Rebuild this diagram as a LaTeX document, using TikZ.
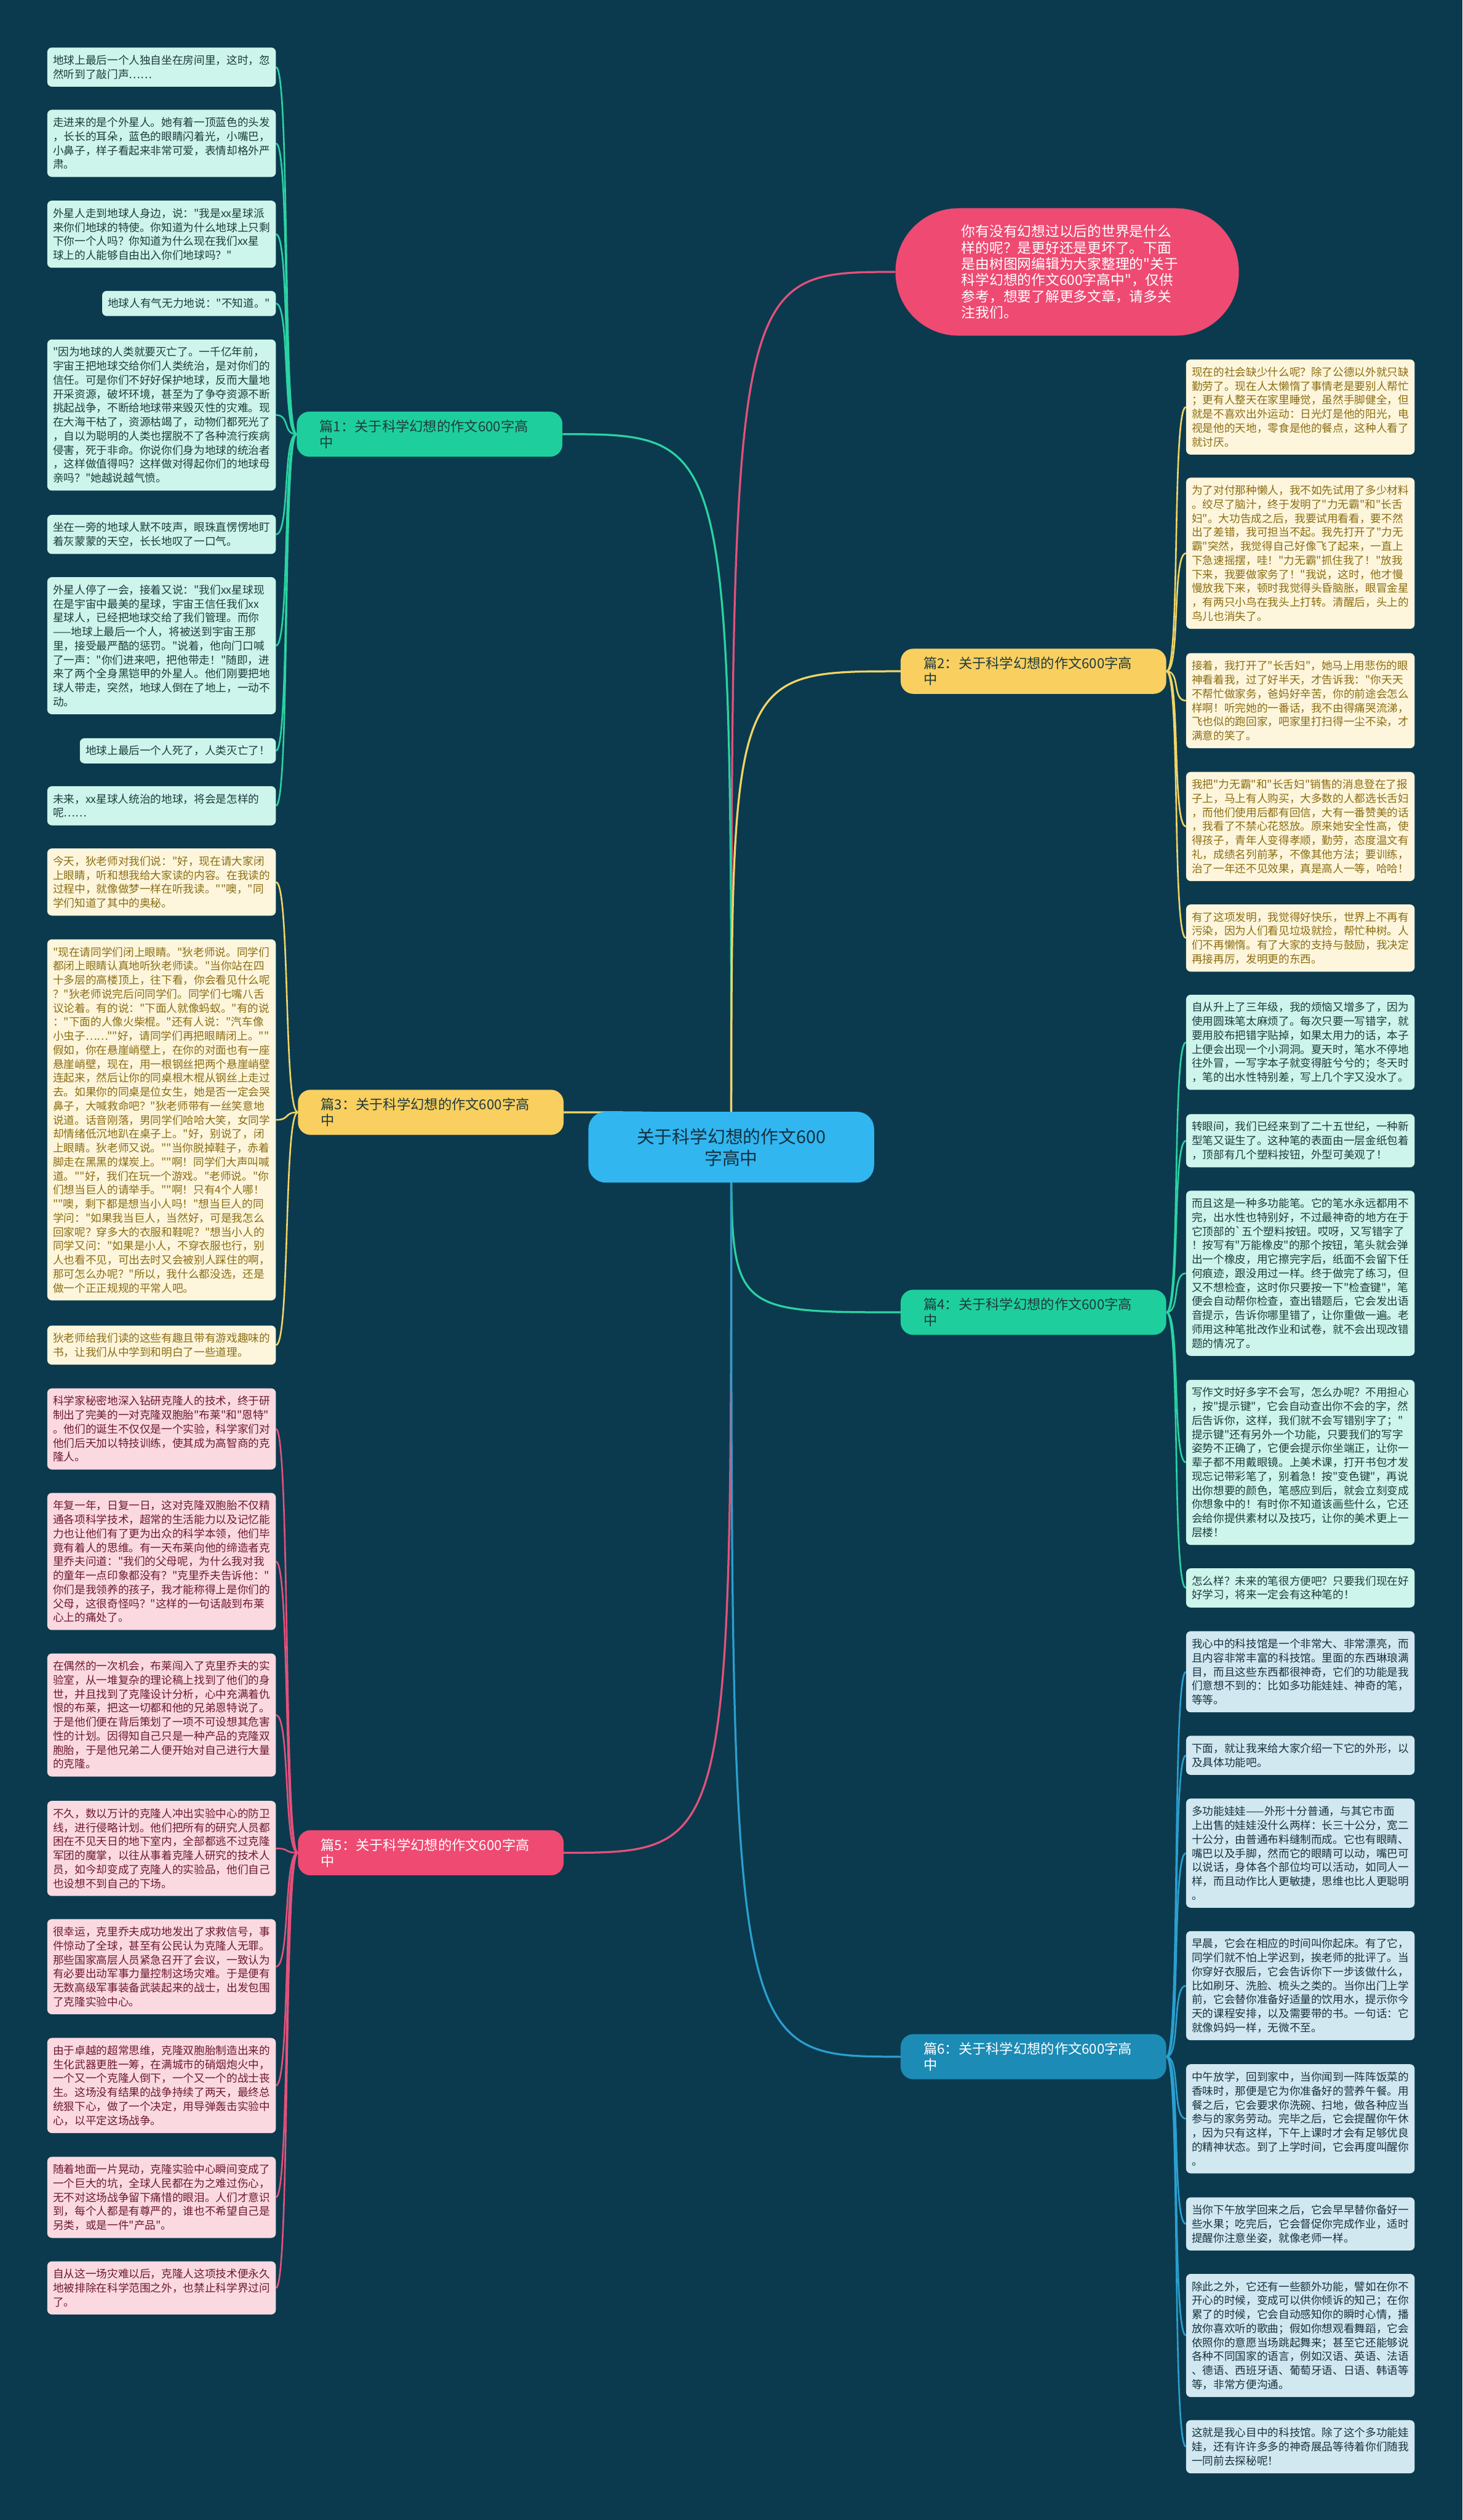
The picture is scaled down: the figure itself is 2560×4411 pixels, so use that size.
\documentclass[tikz,border=0pt]{standalone}
\usepackage{fontspec}
\newfontfamily\cjk{Noto Sans CJK SC}
\usetikzlibrary{calc}
\pgfdeclarelayer{back}\pgfdeclarelayer{lines}
\pgfsetlayers{back,lines,main}
\definecolor{bgc}{HTML}{0B3A4E}
\definecolor{tLine}{HTML}{2BD3A3}\definecolor{tFill}{HTML}{1ECF9D}\definecolor{tLeaf}{HTML}{CDF5EB}\definecolor{tText}{HTML}{1E3B3D}
\definecolor{yLine}{HTML}{F2D466}\definecolor{yFill}{HTML}{F9CF5F}\definecolor{yLeaf}{HTML}{FDF6DC}\definecolor{yText}{HTML}{8C6D14}
\definecolor{pLine}{HTML}{E4517B}\definecolor{pFill}{HTML}{EE4A72}\definecolor{pLeaf}{HTML}{FBD9E0}\definecolor{pText}{HTML}{6C1A30}
\definecolor{bLine}{HTML}{2B9FD0}\definecolor{bFill}{HTML}{1C8BB5}\definecolor{bLeaf}{HTML}{D2E8F1}\definecolor{bText}{HTML}{16323F}
\definecolor{rootFill}{HTML}{31B6F0}\definecolor{rootText}{HTML}{14303E}
\newcommand\leaffont{\cjk\fontsize{19pt}{24.5pt}\selectfont}
\newcommand\brfont{\cjk\fontsize{24pt}{28pt}\selectfont}
\begin{document}
\begin{tikzpicture}[x=1pt,y=-1pt,
  leaf/.style={rounded corners=8pt, align=left, text width=380pt, inner xsep=10pt, inner ysep=0pt, font=\leaffont, minimum height=44pt+(#1-1)*24.5pt},
  lt/.style={leaf=#1, fill=tLeaf, text=tText},
  ly/.style={leaf=#1, fill=yLeaf, text=yText},
  lp/.style={leaf=#1, fill=pLeaf, text=pText},
  lb/.style={leaf=#1, fill=bLeaf, text=bText},
  sleaf/.style={rounded corners=8pt, inner xsep=10pt, inner ysep=0pt, minimum height=44pt, font=\leaffont, fill=tLeaf, text=tText},
  br/.style={rounded corners=22pt, align=left, text width=385pt, inner xsep=40pt, inner ysep=0pt, minimum height=79pt, font=\brfont},
  rl/.style={line width=3.5pt},
  ll/.style={line width=2.8pt}
]
\useasboundingbox (0,0) rectangle (2560,4411);
\begin{pgfonlayer}{back}
\fill[bgc] (0,0) rectangle (2560,4411);
\end{pgfonlayer}

% root and intro
\node[rounded corners=30pt, fill=rootFill, text=rootText, minimum width=500pt, minimum height=124pt, align=center, font=\cjk\fontsize{31pt}{38pt}\selectfont] (root) at (1280,2008) {关于科学幻想的作文600\\字高中};
\node[rounded corners=110pt, fill=pFill, text=white, minimum width=601pt, minimum height=223pt, text width=370pt, align=left, font=\cjk\fontsize{24.5pt}{28.3pt}\selectfont] (intro) at (1868,476) {你有没有幻想过以后的世界是什么\\样的呢？是更好还是更坏了。下面\\是由树图网编辑为大家整理的"关于\\科学幻想的作文600字高中"，仅供\\参考，想要了解更多文章，请多关\\注我们。};

% branches
\node[br, fill=tFill, text=tText] (b1) at (752,760) {篇1：关于科学幻想的作文600字高\\中};
\node[br, fill=yFill, text=tText] (b3) at (754,1947) {篇3：关于科学幻想的作文600字高\\中};
\node[br, fill=pFill, text=white] (b5) at (754,3243) {篇5：关于科学幻想的作文600字高\\中};
\node[br, fill=yFill, text=tText] (b2) at (1809,1175) {篇2：关于科学幻想的作文600字高\\中};
\node[br, fill=tFill, text=tText] (b4) at (1809,2297) {篇4：关于科学幻想的作文600字高\\中};
\node[br, fill=bFill, text=white] (b6) at (1809,3600) {篇6：关于科学幻想的作文600字高\\中};

% section 1
\node[lt=2, anchor=north east] (L1) at (483,83) {地球上最后一个人独自坐在房间里，这时，忽\\然听到了敲门声……};
\node[lt=4, anchor=north east] (L2) at (483,192) {走进来的是个外星人。她有着一顶蓝色的头发\\，长长的耳朵，蓝色的眼睛闪着光，小嘴巴，\\小鼻子，样子看起来非常可爱，表情却格外严\\肃。};
\node[lt=4, anchor=north east] (L3) at (483,351) {外星人走到地球人身边，说："我是xx星球派\\来你们地球的特使。你知道为什么地球上只剩\\下你一个人吗？你知道为什么现在我们xx星\\球上的人能够自由出入你们地球吗？"};
\node[sleaf, anchor=north east] (L4) at (483,509) {地球人有气无力地说："不知道。"};
\node[lt=10, anchor=north east] (L5) at (483,594) {"因为地球的人类就要灭亡了。一千亿年前，\\宇宙王把地球交给你们人类统治，是对你们的\\信任。可是你们不好好保护地球，反而大量地\\开采资源，破坏环境，甚至为了争夺资源不断\\挑起战争，不断给地球带来毁灭性的灾难。现\\在大海干枯了，资源枯竭了，动物们都死光了\\，自以为聪明的人类也摆脱不了各种流行疾病\\侵害，死于非命。你说你们身为地球的统治者\\，这样做值得吗？这样做对得起你们的地球母\\亲吗？"她越说越气愤。};
\node[lt=2, anchor=north east] (L6) at (483,901) {坐在一旁的地球人默不吱声，眼珠直愣愣地盯\\着灰蒙蒙的天空，长长地叹了一口气。};
\node[lt=9, anchor=north east] (L7) at (483,1010) {外星人停了一会，接着又说："我们xx星球现\\在是宇宙中最美的星球，宇宙王信任我们xx\\星球人，已经把地球交给了我们管理。而你\\——地球上最后一个人，将被送到宇宙王那\\里，接受最严酷的惩罚。"说着，他向门口喊\\了一声："你们进来吧，把他带走！"随即，进\\来了两个全身黑铠甲的外星人。他们刚要把地\\球人带走，突然，地球人倒在了地上，一动不\\动。};
\node[sleaf, anchor=north east] (L8) at (483,1292) {地球上最后一个人死了，人类灭亡了！};
\node[lt=2, anchor=north east] (L9) at (483,1376) {未来，xx星球人统治的地球，将会是怎样的\\呢……};

% section 3
\node[ly=4, anchor=north east] (L10) at (483,1485) {今天，狄老师对我们说："好，现在请大家闭\\上眼睛，听和想我给大家读的内容。在我读的\\过程中，就像做梦一样在听我读。""噢，"同\\学们知道了其中的奥秘。};
\node[ly=25, anchor=north east] (L11) at (483,1644) {"现在请同学们闭上眼睛。"狄老师说。同学们\\都闭上眼睛认真地听狄老师读。"当你站在四\\十多层的高楼顶上，往下看，你会看见什么呢\\？"狄老师说完后问同学们。同学们七嘴八舌\\议论着。有的说："下面人就像蚂蚁。"有的说\\："下面的人像火柴棍。"还有人说："汽车像\\小虫子……""好，请同学们再把眼睛闭上。""\\假如，你在悬崖峭壁上，在你的对面也有一座\\悬崖峭壁，现在，用一根钢丝把两个悬崖峭壁\\连起来，然后让你的同桌根木棍从钢丝上走过\\去。如果你的同桌是位女生，她是否一定会哭\\鼻子，大喊救命吧？"狄老师带有一丝笑意地\\说道。话音刚落，男同学们哈哈大笑，女同学\\却情绪低沉地趴在桌子上。"好，别说了，闭\\上眼睛。狄老师又说。""当你脱掉鞋子，赤着\\脚走在黑黑的煤炭上。""啊！同学们大声叫喊\\道。""好，我们在玩一个游戏。"老师说。"你\\们想当巨人的请举手。""啊！只有4个人哪！\\""噢，剩下都是想当小人吗！"想当巨人的同\\学问："如果我当巨人，当然好，可是我怎么\\回家呢？穿多大的衣服和鞋呢？"想当小人的\\同学又问："如果是小人，不穿衣服也行，别\\人也看不见，可出去时又会被别人踩住的啊，\\那可怎么办呢？"所以，我什么都没选，还是\\做一个正正规规的平常人吧。};
\node[ly=2, anchor=north east] (L12) at (483,2320) {狄老师给我们读的这些有趣且带有游戏趣味的\\书，让我们从中学到和明白了一些道理。};

% section 5
\node[lp=5, anchor=north east] (L13) at (483,2430) {科学家秘密地深入钻研克隆人的技术，终于研\\制出了完美的一对克隆双胞胎"布莱"和"恩特"\\。他们的诞生不仅仅是一个实验，科学家们对\\他们后天加以特技训练，使其成为高智商的克\\隆人。};
\node[lp=9, anchor=north east] (L14) at (483,2613) {年复一年，日复一日，这对克隆双胞胎不仅精\\通各项科学技术，超常的生活能力以及记忆能\\力也让他们有了更为出众的科学本领，他们毕\\竟有着人的思维。有一天布莱向他的缔造者克\\里乔夫问道："我们的父母呢，为什么我对我\\的童年一点印象都没有？"克里乔夫告诉他："\\你们是我领养的孩子，我才能称得上是你们的\\父母，这很奇怪吗？"这样的一句话敲到布莱\\心上的痛处了。};
\node[lp=8, anchor=north east] (L15) at (483,2894) {在偶然的一次机会，布莱闯入了克里乔夫的实\\验室，从一堆复杂的理论稿上找到了他们的身\\世，并且找到了克隆设计分析，心中充满着仇\\恨的布莱，把这一切都和他的兄弟恩特说了。\\于是他们便在背后策划了一项不可设想其危害\\性的计划。因得知自己只是一种产品的克隆双\\胞胎，于是他兄弟二人便开始对自己进行大量\\的克隆。};
\node[lp=6, anchor=north east] (L16) at (483,3152) {不久，数以万计的克隆人冲出实验中心的防卫\\线，进行侵略计划。他们把所有的研究人员都\\困在不见天日的地下室内，全部都逃不过克隆\\军团的魔掌，以往从事着克隆人研究的技术人\\员，如今却变成了克隆人的实验品，他们自己\\也设想不到自己的下场。};
\node[lp=6, anchor=north east] (L17) at (483,3359) {很幸运，克里乔夫成功地发出了求救信号，事\\件惊动了全球，甚至有公民认为克隆人无罪。\\那些国家高层人员紧急召开了会议，一致认为\\有必要出动军事力量控制这场灾难。于是便有\\无数高级军事装备武装起来的战士，出发包围\\了克隆实验中心。};
\node[lp=6, anchor=north east] (L18) at (483,3567) {由于卓越的超常思维，克隆双胞胎制造出来的\\生化武器更胜一筹，在满城市的硝烟炮火中，\\一个又一个克隆人倒下，一个又一个的战士丧\\生。这场没有结果的战争持续了两天，最终总\\统狠下心，做了一个决定，用导弹轰击实验中\\心，以平定这场战争。};
\node[lp=5, anchor=north east] (L19) at (483,3775) {随着地面一片晃动，克隆实验中心瞬间变成了\\一个巨大的坑，全球人民都在为之难过伤心，\\无不对这场战争留下痛惜的眼泪。人们才意识\\到，每个人都是有尊严的，谁也不希望自己是\\另类，或是一件"产品"。};
\node[lp=3, anchor=north east] (L20) at (483,3958) {自从这一场灾难以后，克隆人这项技术便永久\\地被排除在科学范围之外，也禁止科学界过问\\了。};

% section 2
\node[ly=6, anchor=north west] (R1) at (2076,629) {现在的社会缺少什么呢？除了公德以外就只缺\\勤劳了。现在人太懒惰了事情老是要别人帮忙\\；更有人整天在家里睡觉，虽然手脚健全，但\\就是不喜欢出外运动：日光灯是他的阳光，电\\视是他的天地，零食是他的餐点，这种人看了\\就讨厌。};
\node[ly=10, anchor=north west] (R2) at (2076,836) {为了对付那种懒人，我不如先试用了多少材料\\。绞尽了脑汁，终于发明了"力无霸"和"长舌\\妇"。大功告成之后，我要试用看看，要不然\\出了差错，我可担当不起。我先打开了"力无\\霸"突然，我觉得自己好像飞了起来，一直上\\下急速摇摆，哇！"力无霸"抓住我了！"放我\\下来，我要做家务了！"我说，这时，他才慢\\慢放我下来，顿时我觉得头昏脑胀，眼冒金星\\，有两只小鸟在我头上打转。清醒后，头上的\\鸟儿也消失了。};
\node[ly=6, anchor=north west] (R3) at (2076,1143) {接着，我打开了"长舌妇"，她马上用悲伤的眼\\神看着我，过了好半天，才告诉我："你天天\\不帮忙做家务，爸妈好辛苦，你的前途会怎么\\样啊！听完她的一番话，我不由得痛哭流涕，\\飞也似的跑回家，吧家里打扫得一尘不染，才\\满意的笑了。};
\node[ly=7, anchor=north west] (R4) at (2076,1351) {我把"力无霸"和"长舌妇"销售的消息登在了报\\子上，马上有人购买，大多数的人都选长舌妇\\，而他们使用后都有回信，大有一番赞美的话\\，我看了不禁心花怒放。原来她安全性高，使\\得孩子，青年人变得孝顺，勤劳，态度温文有\\礼，成绩名列前茅，不像其他方法；要训练，\\治了一年还不见效果，真是高人一等，哈哈！};
\node[ly=4, anchor=north west] (R5) at (2076,1583) {有了这项发明，我觉得好快乐，世界上不再有\\污染，因为人们看见垃圾就捡，帮忙种树。人\\们不再懒惰。有了大家的支持与鼓励，我决定\\再接再厉，发明更的东西。};

% section 4
\node[lt=6, anchor=north west] (R6) at (2076,1741) {自从升上了三年级，我的烦恼又增多了，因为\\使用圆珠笔太麻烦了。每次只要一写错字，就\\要用胶布把错字贴掉，如果太用力的话，本子\\上便会出现一个小洞洞。夏天时，笔水不停地\\往外冒，一写字本子就变得脏兮兮的；冬天时\\，笔的出水性特别差，写上几个字又没水了。};
\node[lt=3, anchor=north west] (R7) at (2076,1950) {转眼间，我们已经来到了二十五世纪，一种新\\型笔又诞生了。这种笔的表面由一层金纸包着\\，顶部有几个塑料按钮，外型可美观了！};
\node[lt=11, anchor=north west] (R8) at (2076,2084) {而且这是一种多功能笔。它的笔水永远都用不\\完，出水性也特别好，不过最神奇的地方在于\\它顶部的`五个塑料按钮。哎呀，又写错字了\\！按写有"万能橡皮"的那个按钮，笔头就会弹\\出一个橡皮，用它擦完字后，纸面不会留下任\\何痕迹，跟没用过一样。终于做完了练习，但\\又不想检查，这时你只要按一下"检查键"，笔\\便会自动帮你检查，查出错题后，它会发出语\\音提示，告诉你哪里错了，让你重做一遍。老\\师用这种笔批改作业和试卷，就不会出现改错\\题的情况了。};
\node[lt=11, anchor=north west] (R9) at (2076,2415) {写作文时好多字不会写，怎么办呢？不用担心\\，按"提示键"，它会自动查出你不会的字，然\\后告诉你，这样，我们就不会写错别字了；"\\提示键"还有另外一个功能，只要我们的写字\\姿势不正确了，它便会提示你坐端正，让你一\\辈子都不用戴眼镜。上美术课，打开书包才发\\现忘记带彩笔了，别着急！按"变色键"，再说\\出你想要的颜色，笔感应到后，就会立刻变成\\你想象中的！有时你不知道该画些什么，它还\\会给你提供素材以及技巧，让你的美术更上一\\层楼！};
\node[lt=2, anchor=north west] (R10) at (2076,2745) {怎么样？未来的笔很方便吧？只要我们现在好\\好学习，将来一定会有这种笔的！};

% section 6
\node[lb=5, anchor=north west] (R11) at (2076,2855) {我心中的科技馆是一个非常大、非常漂亮，而\\且内容非常丰富的科技馆。里面的东西琳琅满\\目，而且这些东西都很神奇，它们的功能是我\\们意想不到的：比如多功能娃娃、神奇的笔，\\等等。};
\node[lb=2, anchor=north west] (R12) at (2076,3038) {下面，就让我来给大家介绍一下它的外形，以\\及具体功能吧。};
\node[lb=7, anchor=north west] (R13) at (2076,3148) {多功能娃娃——外形十分普通，与其它市面\\上出售的娃娃没什么两样：长三十公分，宽二\\十公分，由普通布料缝制而成。它也有眼睛、\\嘴巴以及手脚，然而它的眼睛可以动，嘴巴可\\以说话，身体各个部位均可以活动，如同人一\\样，而且动作比人更敏捷，思维也比人更聪明\\。};
\node[lb=7, anchor=north west] (R14) at (2076,3380) {早晨，它会在相应的时间叫你起床。有了它，\\同学们就不怕上学迟到，挨老师的批评了。当\\你穿好衣服后，它会告诉你下一步该做什么，\\比如刷牙、洗脸、梳头之类的。当你出门上学\\前，它会替你准备好适量的饮用水，提示你今\\天的课程安排，以及需要带的书。一句话：它\\就像妈妈一样，无微不至。};
\node[lb=7, anchor=north west] (R15) at (2076,3613) {中午放学，回到家中，当你闻到一阵阵饭菜的\\香味时，那便是它为你准备好的营养午餐。用\\餐之后，它会要求你洗碗、扫地，做各种应当\\参与的家务劳动。完毕之后，它会提醒你午休\\，因为只有这样，下午上课时才会有足够优良\\的精神状态。到了上学时间，它会再度叫醒你\\。};
\node[lb=3, anchor=north west] (R16) at (2076,3846) {当你下午放学回来之后，它会早早替你备好一\\些水果；吃完后，它会督促你完成作业，适时\\提醒你注意坐姿，就像老师一样。};
\node[lb=8, anchor=north west] (R17) at (2076,3980) {除此之外，它还有一些额外功能，譬如在你不\\开心的时候，变成可以供你倾诉的知己；在你\\累了的时候，它会自动感知你的瞬时心情，播\\放你喜欢听的歌曲；假如你想观看舞蹈，它会\\依照你的意愿当场跳起舞来；甚至它还能够说\\各种不同国家的语言，例如汉语、英语、法语\\、德语、西班牙语、葡萄牙语、日语、韩语等\\等，非常方便沟通。};
\node[lb=3, anchor=north west] (R18) at (2076,4236) {这就是我心目中的科技馆。除了这个多功能娃\\娃，还有许许多多的神奇展品等待着你们随我\\一同前去探秘呢！};

\begin{pgfonlayer}{lines}
% root connectors
\draw[rl, pLine] (root.center) .. controls (root.center |- intro.west) .. (intro.west);
\draw[rl, tLine] (root.center) .. controls (root.center |- b1.east) .. (b1.east);
\draw[rl, yLine] (root.center) .. controls (root.center |- b3.east) .. (b3.east);
\draw[rl, pLine] (root.center) .. controls (root.center |- b5.east) .. (b5.east);
\draw[rl, yLine] (root.center) .. controls (root.center |- b2.west) .. (b2.west);
\draw[rl, tLine] (root.center) .. controls (root.center |- b4.west) .. (b4.west);
\draw[rl, bLine] (root.center) .. controls (root.center |- b6.west) .. (b6.west);
% leaf connectors
\foreach \n in {L1,L2,L3,L4,L5,L6,L7,L8,L9}
  \draw[ll, tLine] (b1.west) .. controls ([xshift=-25pt]b1.west) and ([xshift=25pt]\n.east) .. (\n.east);
\foreach \n in {L10,L11,L12}
  \draw[ll, yLine] (b3.west) .. controls ([xshift=-25pt]b3.west) and ([xshift=25pt]\n.east) .. (\n.east);
\foreach \n in {L13,L14,L15,L16,L17,L18,L19,L20}
  \draw[ll, pLine] (b5.west) .. controls ([xshift=-25pt]b5.west) and ([xshift=25pt]\n.east) .. (\n.east);
\foreach \n in {R1,R2,R3,R4,R5}
  \draw[ll, yLine] (b2.east) .. controls ([xshift=25pt]b2.east) and ([xshift=-25pt]\n.west) .. (\n.west);
\foreach \n in {R6,R7,R8,R9,R10}
  \draw[ll, tLine] (b4.east) .. controls ([xshift=25pt]b4.east) and ([xshift=-25pt]\n.west) .. (\n.west);
\foreach \n in {R11,R12,R13,R14,R15,R16,R17,R18}
  \draw[ll, bLine] (b6.east) .. controls ([xshift=25pt]b6.east) and ([xshift=-25pt]\n.west) .. (\n.west);
\end{pgfonlayer}
\end{tikzpicture}
\end{document}
